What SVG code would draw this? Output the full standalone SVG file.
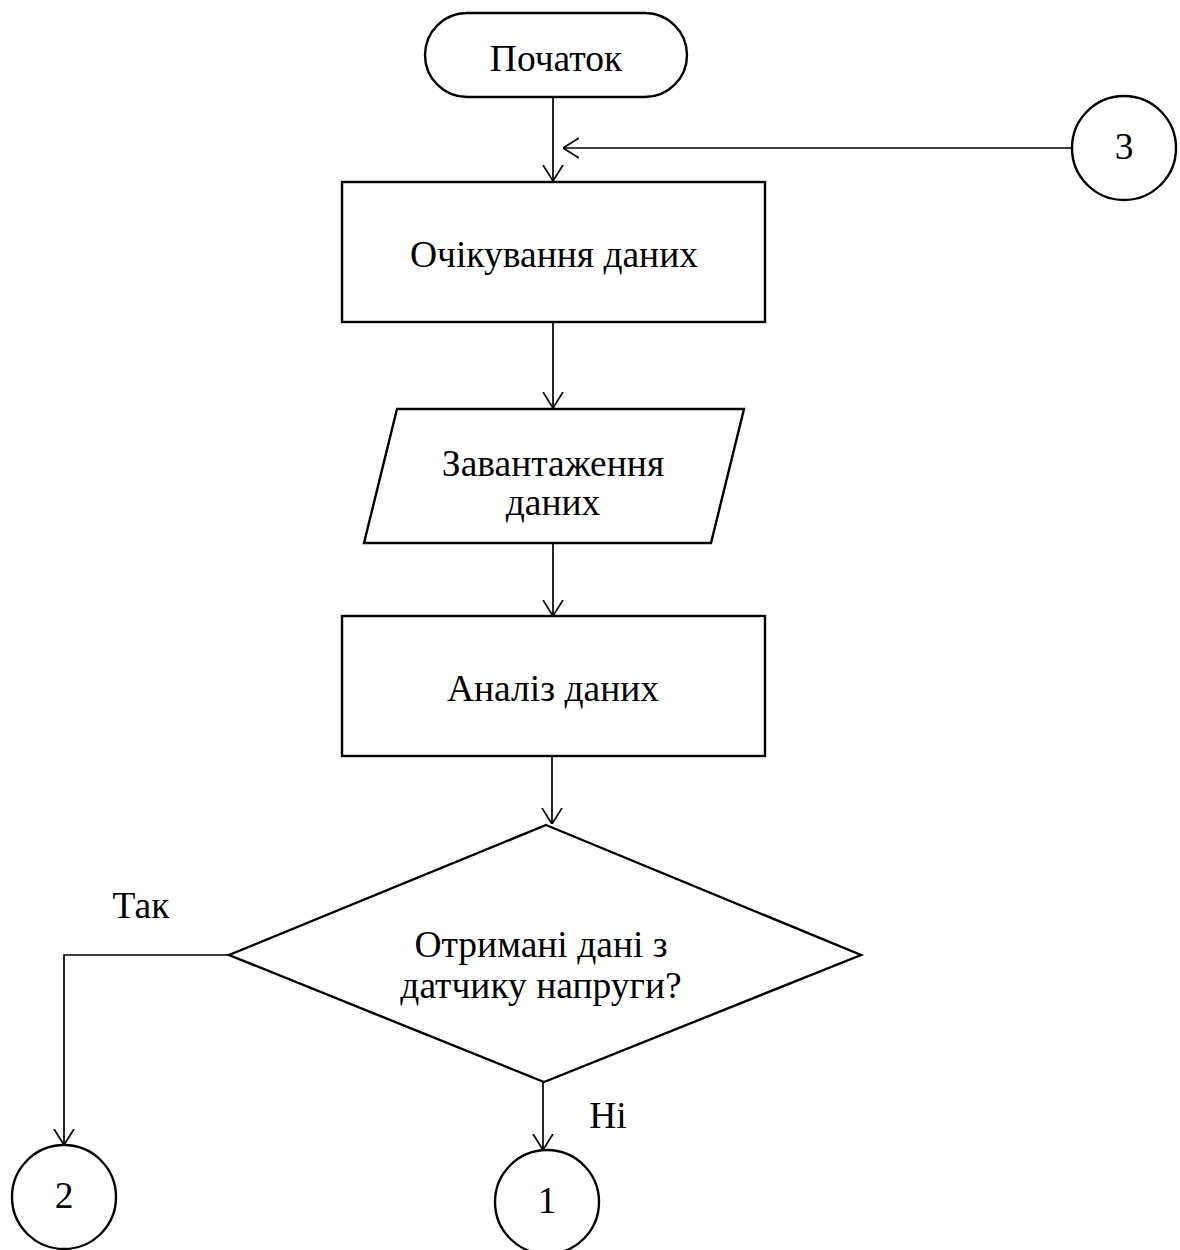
<svg xmlns="http://www.w3.org/2000/svg" width="1180" height="1250" viewBox="0 0 1180 1250">
<style>
.s{fill:#fff;stroke:#000;stroke-width:2.4}
.c{fill:none;stroke:#000;stroke-width:1.7}
.t{font-family:"Liberation Serif","Times New Roman",serif;font-size:37.5px;fill:#000;text-anchor:middle}
</style>
<defs>
<marker id="a" viewBox="0 0 16 22" refX="16" refY="11" markerWidth="16" markerHeight="22" markerUnits="userSpaceOnUse" orient="auto">
<path d="M0,1 L16,11 L0,21" fill="none" stroke="#000" stroke-width="1.7"/>
</marker>
</defs>
<rect width="1180" height="1250" fill="#fff"/>
<g id="connectors">
<line class="c" x1="553" y1="97" x2="553" y2="181" marker-end="url(#a)"/>
<line class="c" x1="1072" y1="148" x2="563" y2="148" marker-end="url(#a)"/>
<line class="c" x1="553" y1="322" x2="553" y2="408" marker-end="url(#a)"/>
<line class="c" x1="553" y1="543" x2="553" y2="616" marker-end="url(#a)"/>
<line class="c" x1="552" y1="756" x2="552" y2="824" marker-end="url(#a)"/>
<polyline class="c" points="229,955 64,955 64,1145" marker-end="url(#a)"/>
<line class="c" x1="543" y1="1082" x2="543" y2="1150" marker-end="url(#a)"/>
</g>
<g id="start">
<rect class="s" x="425" y="13" width="262" height="84" rx="42" ry="42"/>
<text class="t" x="556" y="71">Початок</text>
</g>
<g id="conn3">
<circle class="s" cx="1124" cy="148" r="52"/>
<text class="t" x="1124" y="159">3</text>
</g>
<g id="wait">
<rect class="s" x="342" y="182" width="423" height="140"/>
<text class="t" x="554" y="267">Очікування даних</text>
</g>
<g id="load">
<polygon class="s" points="397,409 744,409 711,543 364,543"/>
<text class="t" x="553" y="476">Завантаження</text>
<text class="t" x="553" y="515">даних</text>
</g>
<g id="analyze">
<rect class="s" x="342" y="616" width="423" height="140"/>
<text class="t" x="553" y="701">Аналіз даних</text>
</g>
<g id="decision">
<polygon class="s" points="546,825 861,955 544,1082 229,955"/>
<text class="t" x="541" y="957">Отримані дані з</text>
<text class="t" x="541" y="998">датчику напруги?</text>
</g>
<text class="t" x="141" y="918">Так</text>
<text class="t" x="608" y="1128">Ні</text>
<g id="conn2">
<circle class="s" cx="64" cy="1197" r="52"/>
<text class="t" x="64" y="1208">2</text>
</g>
<g id="conn1">
<circle class="s" cx="547" cy="1202" r="52"/>
<text class="t" x="547" y="1213">1</text>
</g>
</svg>
